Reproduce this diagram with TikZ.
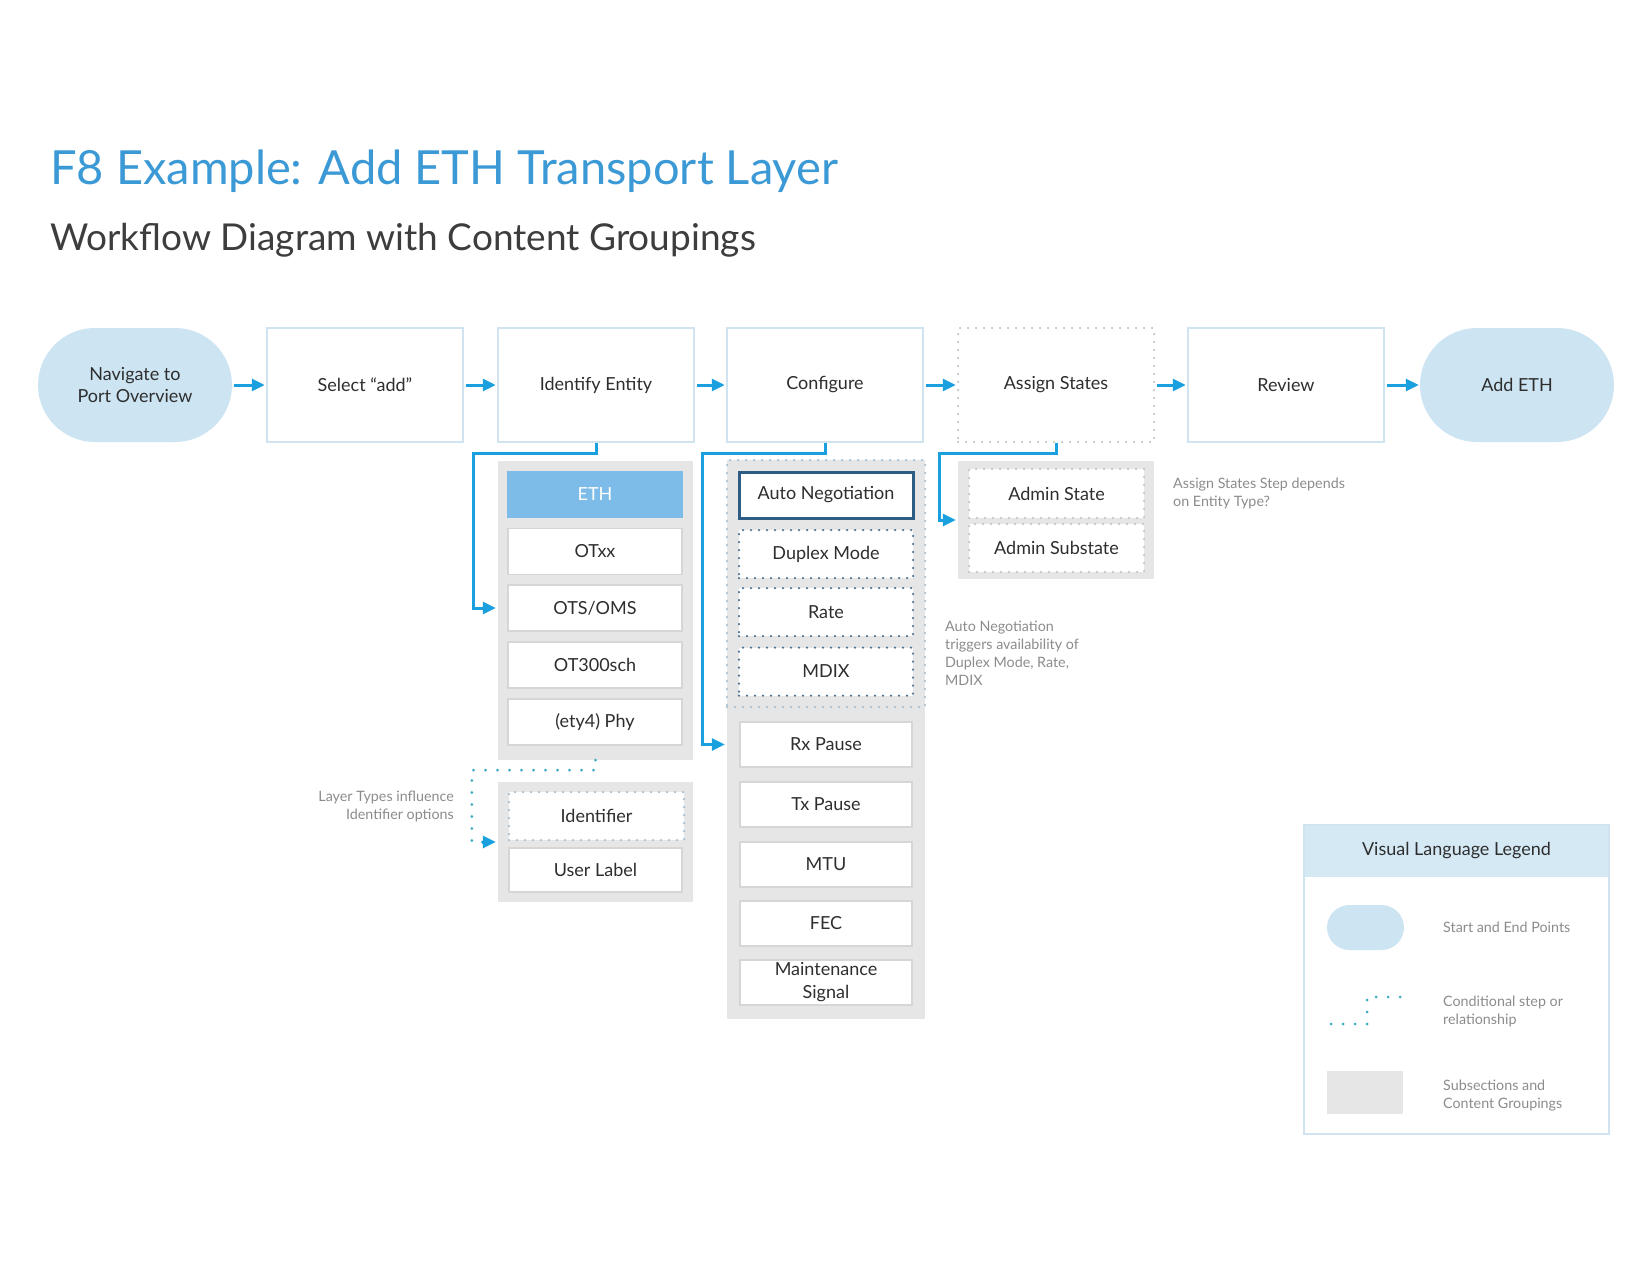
\documentclass[tikz,border=0pt]{standalone}
\usepackage{fontspec}
\setmainfont{Lato}
\usetikzlibrary{arrows.meta,calc}
\definecolor{titleblue}{HTML}{3B9AD6}
\definecolor{subgray}{HTML}{3D3D3D}
\definecolor{txt}{HTML}{2E2E2E}
\definecolor{boxline}{HTML}{CFE4F0}
\definecolor{termfill}{HTML}{CDE4F3}
\definecolor{panelgray}{HTML}{E6E6E6}
\definecolor{itemline}{HTML}{D6D6D6}
\definecolor{ethfill}{HTML}{7DBCE8}
\definecolor{dotblue}{HTML}{4F769A}
\definecolor{dotlight}{HTML}{A9BFD1}
\definecolor{dotgray}{HTML}{C4C4C4}
\definecolor{darkblue}{HTML}{2D5C85}
\definecolor{flowblue}{HTML}{1BA0DF}
\definecolor{condteal}{HTML}{3AA9C6}
\definecolor{notegray}{HTML}{8C8C8C}
\definecolor{legendhead}{HTML}{D5E9F5}
\tikzset{
  stepbox/.style={draw=boxline, line width=2.5pt, fill=white, minimum width=196pt, minimum height=114pt, inner sep=0pt, font=\fontsize{18}{22}\selectfont, text=txt, align=center},
  term/.style={fill=termfill, draw=none, rounded corners=57pt, minimum width=194pt, minimum height=114pt, inner sep=0pt, font=\fontsize{18}{22}\selectfont, text=txt, align=center},
  panel/.style={fill=panelgray, draw=none, inner sep=0pt},
  item/.style={fill=white, draw=itemline, line width=1.5pt, minimum width=174pt, minimum height=46pt, inner sep=0pt, font=\fontsize{18}{21}\selectfont, text=txt, align=center},
  dotitem/.style={item, draw=dotblue, line width=2.5pt, dash pattern=on 0pt off 8pt, line cap=round},
  flow/.style={draw=flowblue, line width=3pt, -{Triangle[length=13pt,width=12pt]}},
  cond/.style={draw=condteal, line width=3pt, dash pattern=on 0pt off 12pt, line cap=round},
  note/.style={text=notegray, font=\fontsize{14.3}{18}\selectfont, inner sep=0pt},
}
\begin{document}
\begin{tikzpicture}[x=1pt,y=-1pt]
\useasboundingbox[fill=white] (0,0) rectangle (1650,1275);

% titles
\node[anchor=base west, inner sep=0pt, text=titleblue, font=\fontsize{47}{52}\selectfont] (title) at (50,184) {F8 Example: Add ETH Transport Layer};
\node[anchor=base west, inner sep=0pt, text=subgray, font=\fontsize{37}{42}\selectfont] (subtitle) at (50,250) {Workflow Diagram with Content Groupings};

% main row
\node[term] (nav) at (135,385) {Navigate to\\Port Overview};
\node[stepbox] (sel) at (365,385) {Select “add”};
\node[stepbox] (ident) at (596,385) {Identify Entity};
\node[stepbox] (conf) at (825,385) {Configure};
\node[stepbox, draw=dotgray, dash pattern=on 0pt off 8pt, line cap=round] (assign) at (1056,385) {Assign States};
\node[stepbox] (rev) at (1286,385) {Review};
\node[term] (add) at (1517,385) {Add ETH};

\foreach \a/\b in {nav/sel, sel/ident, ident/conf, conf/assign, assign/rev, rev/add}
  \draw[flow, shorten <=2pt, shorten >=1pt] (\a) -- (\b);

% identify entity group
\node[panel, minimum width=195pt, minimum height=299pt] (idpanel) at (595.5,610.5) {};
\node[item, fill=ethfill, draw=ethfill, text=white] (eth) at (595,494.5) {ETH};
\node[item] (otxx) at (595,551.5) {OTxx};
\node[item] (ots) at (595,608) {OTS/OMS};
\node[item] (ot300) at (595,665) {OT300sch};
\node[item] (phy) at (595,722) {(ety4) Phy};
\draw[flow, shorten >=2pt] (ident.south) -- ++(0,10) -| ([xshift=-24pt]idpanel.west |- ots) -- (idpanel.west |- ots);

% identifier group
\node[panel, minimum width=195pt, minimum height=120pt] (lblpanel) at (595.5,842) {};
\node[dotitem, draw=dotlight, minimum width=175pt, minimum height=48pt] (identifier) at (596.5,816) {Identifier};
\node[item, minimum width=173pt, minimum height=44pt] (ulabel) at (595.5,870) {User Label};
\coordinate (lblin) at ([xshift=-2pt]lblpanel.west |- 0,842);
\draw[cond] (idpanel.south) -- ++(0,10) -| ([xshift=-24pt]lblin) -- ([xshift=-12pt]lblin);
\draw[flow] ([xshift=-14pt]lblin) -- (lblin);
\node[note, anchor=east, align=right] (ltnote) at (454,806) {Layer Types influence\\Identifier options};

% configure group
\node[panel, minimum width=198pt, minimum height=559pt] (cfpanel) at (826,739.5) {};
\node[draw=dotlight, line width=2.5pt, dash pattern=on 0pt off 8pt, line cap=round, minimum width=198pt, minimum height=247pt, inner sep=0pt] (cfdot) at (826,583.5) {};
\node[item, draw=darkblue, line width=3pt] (auto) at (826,495) {Auto Negotiation};
\node[dotitem, minimum height=48pt] (duplex) at (826,554) {Duplex Mode};
\node[dotitem, minimum height=48pt] (rate) at (826,612) {Rate};
\node[dotitem, minimum height=48pt] (mdix) at (826,671.5) {MDIX};
\node[item, minimum width=172pt, minimum height=45pt] (rx) at (826,744.5) {Rx Pause};
\node[item, minimum width=172pt, minimum height=45pt] (tx) at (826,804.5) {Tx Pause};
\node[item, minimum width=172pt, minimum height=45pt] (mtu) at (826,864.5) {MTU};
\node[item, minimum width=172pt, minimum height=45pt] (fec) at (826,923.5) {FEC};
\node[item, minimum width=172pt, minimum height=45pt, font=\fontsize{18}{23}\selectfont] (maint) at (826,982.5) {Maintenance\\Signal};
\draw[flow, shorten >=2pt] (conf.south) -- ++(0,10) -| ([xshift=-24pt]cfpanel.west |- rx) -- (cfpanel.west |- rx);
\node[note, anchor=west, align=left] (annote) at (945,653) {Auto Negotiation\\triggers availability of\\Duplex Mode, Rate,\\MDIX};

% assign states group
\node[panel, minimum width=196pt, minimum height=118pt] (aspanel) at (1056,520) {};
\node[dotitem, draw=dotgray, minimum width=175pt, minimum height=49pt] (admin) at (1056.5,493.5) {Admin State};
\node[dotitem, draw=dotgray, minimum width=175pt, minimum height=48pt] (adminsub) at (1056.5,548) {Admin Substate};
\draw[flow, shorten >=2pt] (assign.south) -- ++(0,10) -| ([xshift=-18pt]aspanel.west) -- (aspanel.west);
\node[note, anchor=west, align=left] (asnote) at (1173,493) {Assign States Step depends\\on Entity Type?};

% legend
\node[fill=white, draw=none, minimum width=305pt, minimum height=309pt, inner sep=0pt] (legend) at (1456.5,979.5) {};
\node[fill=legendhead, draw=none, minimum width=305pt, minimum height=52pt, inner sep=0pt, font=\fontsize{18}{22}\selectfont, text=txt] (leghead) at (1456.5,851) {Visual Language Legend};
\draw[draw=boxline, line width=2.5pt] (legend.north west) rectangle (legend.south east);
\node[fill=termfill, rounded corners=22.5pt, minimum width=77pt, minimum height=45pt, inner sep=0pt] (legterm) at (1365.5,927.5) {};
\node[note, anchor=west] (legt1) at (1443,927.5) {Start and End Points};
\coordinate (lc1) at (1331,1024);
\coordinate (lc2) at (1404,997);
\draw[cond] (lc1) -- (1367,1024) -- (1367,997) -- (lc2);
\node[note, anchor=west, align=left] (legt2) at (1443,1011.5) {Conditional step or\\relationship};
\node[fill=panelgray, minimum width=76pt, minimum height=43pt, inner sep=0pt] (leggray) at (1365,1092.5) {};
\node[note, anchor=west, align=left] (legt3) at (1443,1096) {Subsections and\\Content Groupings};
\end{tikzpicture}
\end{document}
